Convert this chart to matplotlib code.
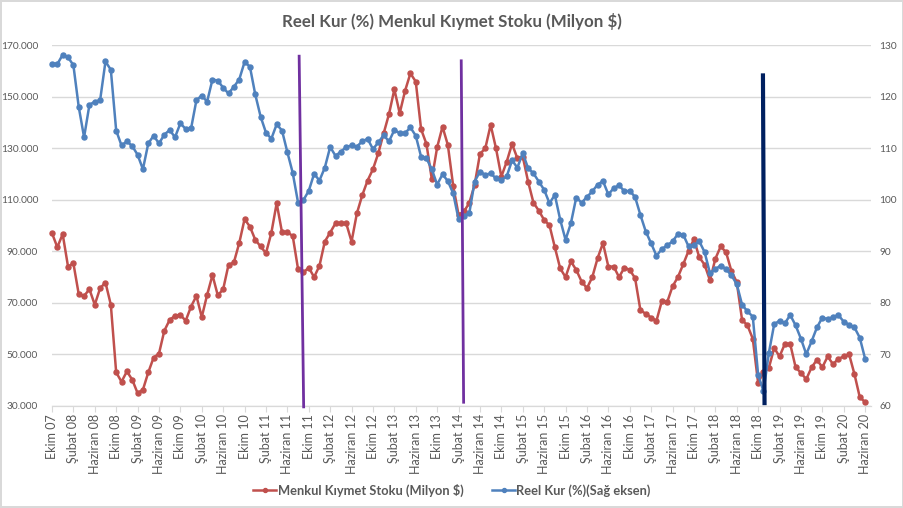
import matplotlib
matplotlib.use("Agg")
import matplotlib.pyplot as plt
from matplotlib.lines import Line2D
from matplotlib.ticker import FuncFormatter

# ---- data (monthly, Ekim 2007 .. Haziran 2020) ----
menkul_kiymet_stoku = [  # Milyon $ (thousands)
    97.0, 91.5, 96.6, 84.0, 85.3, 73.3, 72.6, 75.2, 69.2, 75.6, 77.8, 69.2,
    42.9, 39.3, 43.3, 40.1, 34.9, 36.2, 42.9, 48.7, 50.2, 59.1, 63.3, 64.9,
    65.2, 63.0, 68.5, 72.6, 64.4, 73.0, 80.7, 72.8, 75.2, 84.7, 85.6, 93.1,
    102.4, 99.5, 94.4, 91.8, 89.2, 97.0, 108.6, 97.3, 97.3, 95.9, 83.0, 81.7,
    83.6, 79.9, 84.3, 93.7, 97.2, 100.8, 100.8, 100.8, 93.7, 104.7, 111.7, 117.4,
    121.8, 128.0, 135.7, 143.2, 152.8, 143.5, 152.2, 159.0, 155.8, 137.3, 131.6, 117.9,
    130.3, 138.3, 131.2, 115.3, 104.1, 105.4, 108.6, 115.7, 127.7, 129.9, 139.0, 129.9,
    118.9, 124.7, 131.6, 126.0, 126.7, 117.0, 108.8, 105.7, 102.1, 100.0, 91.5, 83.3,
    79.9, 86.0, 82.7, 78.2, 75.6, 79.9, 87.3, 93.1, 84.0, 84.0, 79.9, 83.6,
    82.7, 79.5, 67.0, 65.7, 64.2, 63.0, 70.6, 70.2, 76.3, 79.9, 84.9, 90.1,
    94.6, 87.6, 84.7, 78.6, 87.0, 91.8, 89.6, 82.3, 78.0, 63.3, 61.2, 56.0,
    38.8, 43.0, 44.6, 52.4, 49.1, 54.0, 53.9, 45.0, 42.7, 40.3, 44.9, 47.8,
    44.9, 49.1, 46.1, 48.2, 49.1, 50.0, 42.3, 33.3, 31.4,
]
reel_kur = [  # %, right axis
    126.4, 126.3, 128.1, 127.6, 126.1, 118.0, 112.1, 118.4, 119.0, 119.3, 126.8, 125.2,
    113.4, 110.5, 111.3, 110.4, 108.7, 105.9, 110.9, 112.4, 110.9, 112.6, 113.5, 112.1,
    114.8, 113.7, 113.8, 119.3, 120.2, 119.0, 123.3, 123.1, 121.7, 120.6, 121.9, 123.3,
    126.7, 125.8, 120.4, 116.1, 113.0, 111.8, 114.6, 113.4, 109.2, 105.2, 99.4, 99.9,
    101.7, 105.0, 103.7, 106.2, 110.2, 108.5, 109.3, 110.2, 110.5, 110.3, 111.3, 111.8,
    109.8, 111.1, 112.5, 111.3, 113.5, 112.9, 112.9, 114.0, 112.4, 108.3, 108.0, 105.9,
    102.9, 104.9, 103.6, 101.2, 96.2, 96.8, 97.3, 103.5, 105.4, 104.8, 105.1, 104.1,
    103.8, 104.5, 107.6, 106.2, 109.0, 106.1, 105.1, 103.5, 101.9, 99.3, 100.9, 96.1,
    92.2, 95.4, 100.4, 99.4, 100.5, 101.6, 102.9, 103.6, 101.0, 102.2, 102.8, 101.6,
    101.7, 100.5, 97.0, 93.8, 91.5, 89.1, 90.4, 91.1, 91.9, 93.3, 93.2, 90.9,
    91.1, 91.9, 89.8, 85.7, 86.5, 87.2, 86.5, 85.3, 83.6, 79.6, 78.3, 77.3,
    66.0, 62.8, 70.2, 75.8, 76.5, 76.0, 77.6, 75.6, 73.0, 70.0, 72.5, 75.2,
    77.1, 76.8, 77.2, 77.6, 76.3, 75.7, 75.2, 73.2, 69.1,
]
tick_labels = [
    "Ekim 07", "Şubat 08", "Haziran 08", "Ekim 08", "Şubat 09", "Haziran 09",
    "Ekim 09", "Şubat 10", "Haziran 10", "Ekim 10", "Şubat 11", "Haziran 11",
    "Ekim 11", "Şubat 12", "Haziran 12", "Ekim 12", "Şubat 13", "Haziran 13",
    "Ekim 13", "Şubat 14", "Haziran 14", "Ekim 14", "Şubat 15", "Haziran 15",
    "Ekim 15", "Şubat 16", "Haziran 16", "Ekim 16", "Şubat 17", "Haziran 17",
    "Ekim 17", "Şubat 18", "Haziran 18", "Ekim 18", "Şubat 19", "Haziran 19",
    "Ekim 19", "Şubat 20", "Haziran 20",
]
tick_step = 4
# annotation lines: (x_top, x_bottom, y_top, y_bottom) in (month index, right-axis units)
event_lines = [
    (46.2, 47.05, 128.1, 59.5, "#7030A0", 2.0),
    (76.5, 76.95, 127.2, 60.4, "#7030A0", 2.0),
    (132.9, 133.2, 124.5, 60.1, "#002060", 3.0),
]
title = "Reel Kur (%) Menkul Kıymet Stoku (Milyon $)"
label_red = "Menkul Kıymet Stoku (Milyon $)"
label_blue = "Reel Kur (%)(Sağ eksen)"

RED = "#C0504D"
BLUE = "#4F81BD"
GRAY = "#595959"
GRID = "#D9D9D9"
FONT = ["Lato", "DejaVu Sans"]
plt.rcParams["font.family"] = FONT

fig = plt.figure(figsize=(9.04, 5.08), dpi=100)
fig.patch.set_edgecolor(GRID)
fig.patch.set_linewidth(1.5)
ax = fig.add_axes([0.0575, 0.2014, 0.906, 0.71])
ax2 = ax.twinx()

x = list(range(len(menkul_kiymet_stoku)))
ax.plot(x, [v * 1000 for v in menkul_kiymet_stoku], color=RED, lw=1.8,
        marker="o", ms=3.6, clip_on=False, zorder=3)
ax2.plot(x, reel_kur, color=BLUE, lw=1.8, marker="o", ms=3.6, clip_on=False, zorder=3)

ax.set_xlim(0, 153.1)
ax.set_ylim(30000, 170000)
ax2.set_ylim(60, 130)
ax.set_yticks(range(30000, 170001, 20000))
ax2.set_yticks(range(60, 131, 10))
ax.yaxis.set_major_formatter(FuncFormatter(lambda v, p: f"{int(v):,}".replace(",", ".")))

ticks = list(range(0, len(x), tick_step))
ax.set_xticks(ticks)
ax.set_xticklabels(tick_labels, rotation=90, fontsize=9, color=GRAY)
ax.tick_params(axis="x", length=4, color=GRID, pad=2)
ax.tick_params(axis="y", length=0, labelsize=7.3, labelcolor=GRAY, pad=10)
ax2.tick_params(axis="y", length=0, labelsize=7.3, labelcolor=GRAY, pad=6)
ax.grid(axis="y", color=GRID, lw=1)
ax.set_axisbelow(True)
for a in (ax, ax2):
    for s in ("top", "left", "right"):
        a.spines[s].set_visible(False)
    a.spines["bottom"].set_color(GRID)

for xt, xb, yt, yb, c, w in event_lines:
    ax2.plot([xt, xb], [yt, yb], color=c, lw=w, solid_capstyle="butt",
             clip_on=False, zorder=5)

fig.text(0.5, 0.958, title, ha="center", va="center", fontsize=12.2,
         fontweight="bold", color=GRAY)

handles = [
    Line2D([], [], color=RED, lw=1.8, marker="o", ms=3.6),
    Line2D([], [], color=BLUE, lw=1.8, marker="o", ms=3.6),
]
leg = fig.legend(handles, [label_red, label_blue], loc="center",
                 bbox_to_anchor=(0.5, 0.035), ncol=2, frameon=False,
                 fontsize=9.3, handlelength=1.8, handletextpad=0.1,
                 columnspacing=2.2, markerscale=0.8)
for t in leg.get_texts():
    t.set_color(GRAY)
    t.set_fontweight("bold")

fig.savefig("out.png", dpi=100)
